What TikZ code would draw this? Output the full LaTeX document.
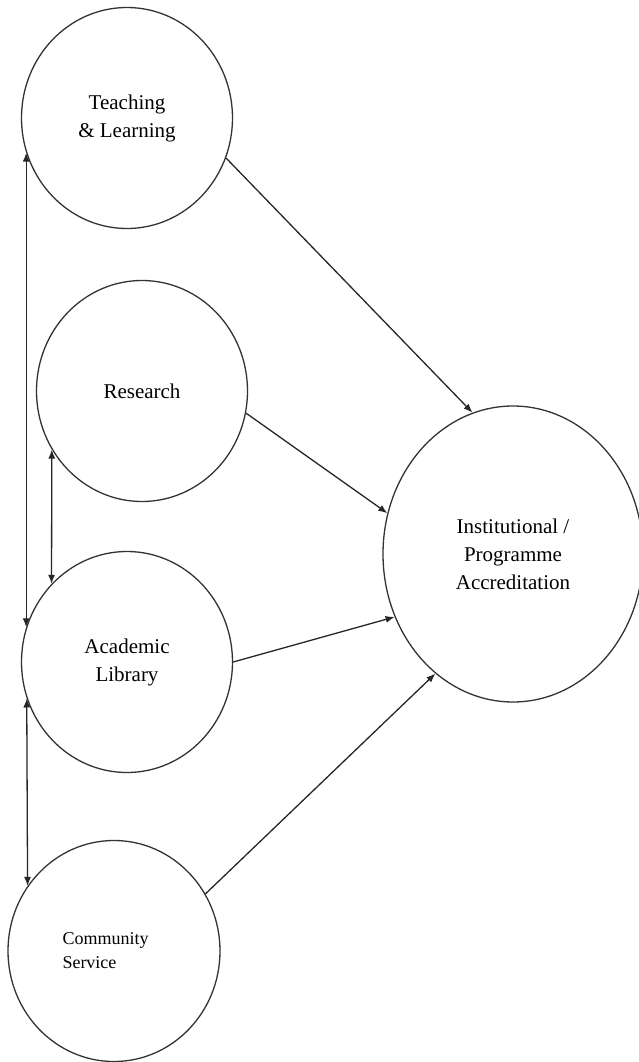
\documentclass[tikz,border=0pt]{standalone}
\usepackage{fontspec}
\setmainfont{Liberation Serif}
\usepackage{tikz}
\usetikzlibrary{positioning, shapes.geometric, arrows.meta}

\begin{document}
\begin{tikzpicture}[
    x=1pt, y=1pt,
    roundnode/.style={ellipse, draw=black!80, line width=1.3pt, inner sep=0pt,
        minimum width=211pt, minimum height=221pt, align=center,
        font=\fontsize{21}{28}\selectfont},
    bignode/.style={roundnode, minimum width=260pt, minimum height=296pt},
    link/.style={draw=black!85, line width=1.3pt, >={Latex[length=9pt,width=7pt]}},
    ]
    \useasboundingbox (0,0) rectangle (639,-1062);

    \node[roundnode] (teach) at (127,-118) {Teaching\\\& Learning};
    \node[roundnode] (research) at (142,-391) {Research};
    \node[roundnode] (library) at (127,-662) {Academic\\Library};
    \node[roundnode, minimum width=212pt, text width=103pt, align=left,
        font=\fontsize{18}{24}\selectfont] (community) at (114,-951) {Community\\Service};
    \node[bignode] (accred) at (513,-554) {Institutional /\\Programme\\Accreditation};

    \draw[link, <->] (teach.199) -- (library.161);
    \draw[link, <->] (research.213) -- (library.134);
    \draw[link, <->] (library.200) -- (community.143);

    \draw[link, ->] (teach.338) -- (accred.106);
    \draw[link, ->] (research.348) -- (accred.162);
    \draw[link, ->] (library.0) -- (accred.208);
    \draw[link, ->] (community.32) -- (accred.237);
\end{tikzpicture}
\end{document}
